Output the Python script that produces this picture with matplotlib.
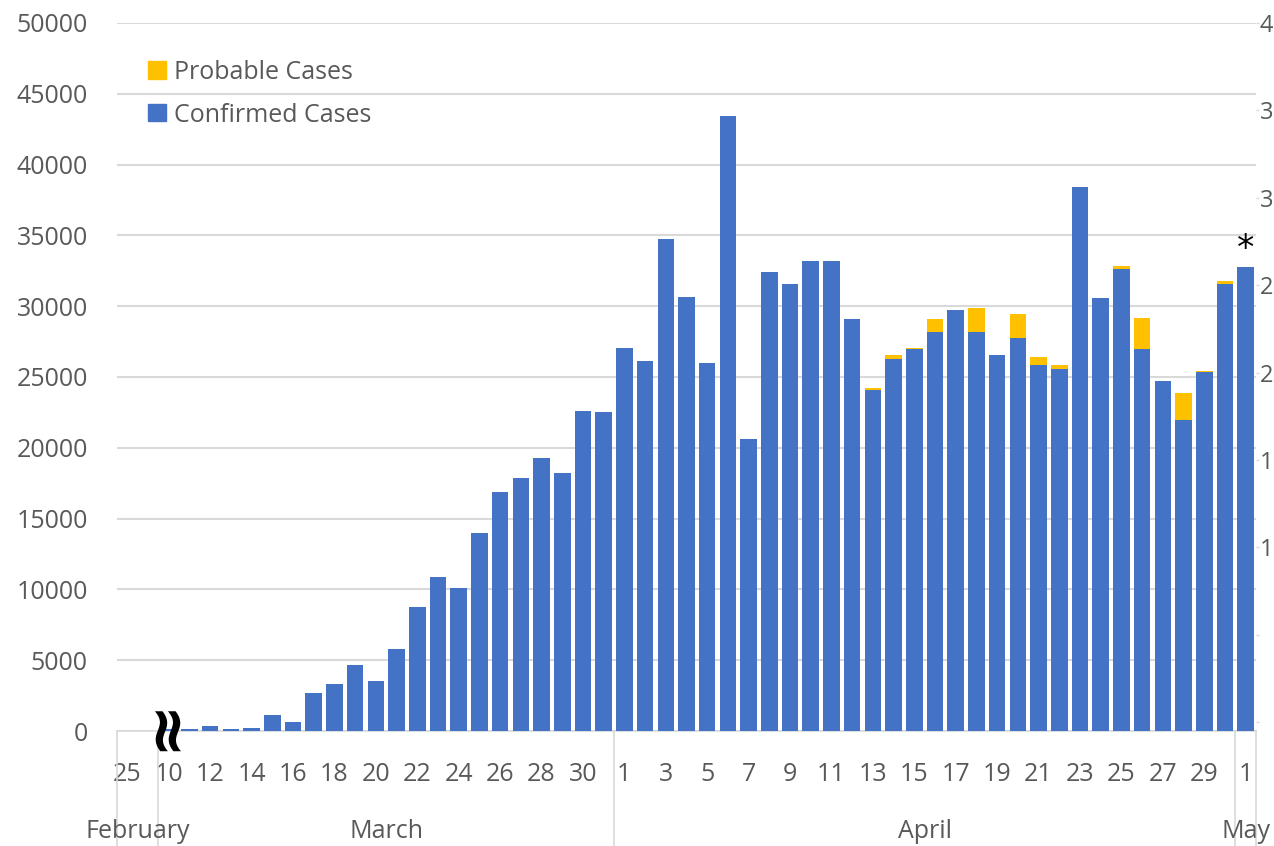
import matplotlib.pyplot as plt
import matplotlib.transforms as mtransforms
from matplotlib.patches import Patch
from matplotlib import rcParams

rcParams['font.family'] = ['Open Sans', 'DejaVu Sans']
rcParams['font.size'] = 18

#%% data (Feb 25, one more Feb day, then Mar 10 .. May 1)
days = ['25', ''] + [str(d) for d in range(10, 32)] + [str(d) for d in range(1, 31)] + ['1']
months = ['February', 'March', 'April', 'May']
month_len = [2, 22, 30, 1]

confirmed = [0, 0,
             150, 150, 350, 150, 200, 1150, 650, 2700, 3300, 4650, 3500,
             5800, 8750, 10900, 10100, 13950, 16900, 17900, 19250, 18200, 22600, 22500,
             27050, 26150, 34750, 30650, 26000, 43400, 20600, 32400, 31600, 33200,
             33200, 29100, 24050, 26250, 26950, 28200, 29750, 28150, 26550, 27750,
             25850, 25600, 38400, 30600, 32650, 26950, 24750, 21950, 25350, 31550,
             32750]
probable = [0, 0,
            0, 0, 0, 0, 0, 0, 0, 0, 0, 0, 0,
            0, 0, 0, 0, 0, 0, 0, 0, 0, 0, 0,
            0, 0, 0, 0, 0, 0, 0, 0, 0, 0,
            0, 0, 150, 300, 120, 900, 0, 1750, 0, 1700,
            580, 270, 0, 0, 200, 2250, 0, 1950, 100, 230,
            0]

# right-hand axis is cut off at the image edge: only first characters show
right_ticks = [0, 5, 10, 15, 20, 25, 30, 35, 40]
right_labels = ['', '', '1', '1', '2', '2', '3', '3', '4']

blue = '#4472C4'
gold = '#FFC000'
grey_txt = '#595959'
grid_c = '#D9D9D9'

#%%
fig = plt.figure(figsize=(12.74, 8.46), dpi=100)
ax = fig.add_axes([117 / 1274, 1 - 731 / 846, (1256 - 117) / 1274, (731 - 23) / 846])

x = list(range(len(days)))
ax.bar(x, confirmed, width=0.8, color=blue, zorder=3)
ax.bar(x, probable, width=0.8, bottom=confirmed, color=gold, zorder=3)

ax.set_xlim(-0.5, len(days) - 0.5)
ax.set_ylim(0, 50000)
ax.set_yticks(range(0, 50001, 5000))
ax.yaxis.grid(True, color=grid_c, lw=1.5, zorder=0)
ax.tick_params(axis='y', length=0, pad=21, colors=grey_txt, labelsize=18)

ax.set_xticks(x[::2])
ax.set_xticklabels(days[::2])
ax.tick_params(axis='x', length=0, pad=22, colors=grey_txt, labelsize=18)

for s in ['top', 'right', 'left']:
    ax.spines[s].set_visible(False)
ax.spines['bottom'].set_color(grid_c)
ax.spines['bottom'].set_linewidth(1.2)

# month separators and labels under the day labels
trans = mtransforms.blended_transform_factory(ax.transData, ax.transAxes)
edge = -0.5
edges = [edge]
for n in month_len:
    edge += n
    edges.append(edge)
for e in edges:
    ax.plot([e, e], [0, -0.2], color=grid_c, lw=1.2, transform=trans, clip_on=False)
for i, m in enumerate(months):
    ax.text((edges[i] + edges[i + 1]) / 2, -0.1415, m, transform=trans, ha='center', va='center',
            color=grey_txt, fontsize=18)

# break mark and note asterisk
ax.text(1.8, 500, '\u2248', rotation=90, ha='center', va='center', fontsize=46,
        fontweight='bold', color='black', zorder=5, family='DejaVu Sans', clip_on=False)
ax.annotate('*', xy=(x[-1], confirmed[-1] + probable[-1]), xytext=(0, 1), textcoords='offset points',
            ha='center', va='bottom', fontsize=25, color='black', family='DejaVu Sans')

# secondary axis
ax2 = ax.twinx()
ax2.set_ylim(-0.51, 39.83)
ax2.set_yticks(right_ticks)
ax2.set_yticklabels(right_labels)
ax2.tick_params(axis='y', length=2, width=1, pad=0.5, colors=grey_txt, labelsize=17)
ax2.tick_params(axis='y', color=grid_c)
for s in ['top', 'right', 'left', 'bottom']:
    ax2.spines[s].set_visible(False)

handles = [Patch(color=gold, label='Probable Cases'), Patch(color=blue, label='Confirmed Cases')]
ax.legend(handles=handles, loc='upper left', bbox_to_anchor=(148 / 1274, 1 - 60 / 846),
          bbox_transform=fig.transFigure, frameon=False, fontsize=18, labelcolor=grey_txt,
          handlelength=0.7, handleheight=0.7, handletextpad=0.35, labelspacing=0.7,
          borderpad=0, borderaxespad=0)

fig.savefig('out.png', dpi=100)
